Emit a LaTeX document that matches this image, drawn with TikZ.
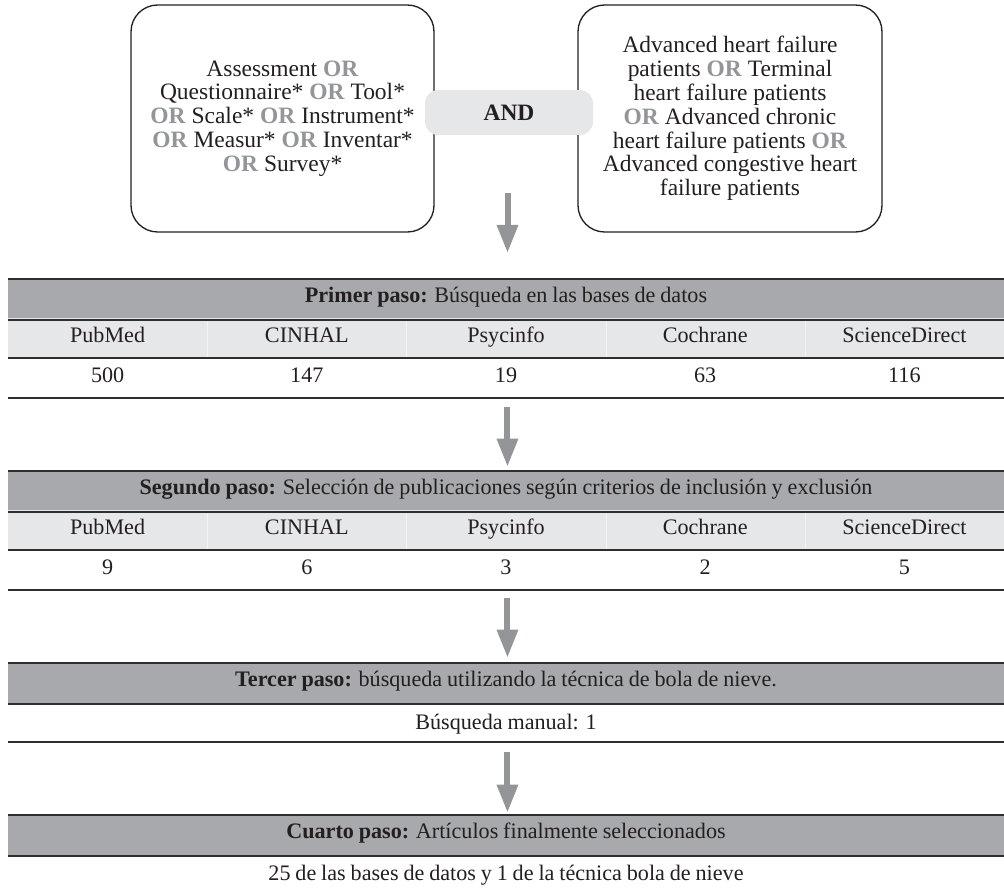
\documentclass[tikz,border=0pt]{standalone}
\usepackage{fontspec}
\setmainfont{Liberation Serif}
\usetikzlibrary{arrows.meta}
\definecolor{hgray}{HTML}{A7A9AC}
\definecolor{lgray}{HTML}{E6E7E8}
\definecolor{agray}{HTML}{939598}
\definecolor{ink}{HTML}{231F20}
\newcommand{\orw}{\textcolor{agray}{\textbf{OR}}}
\newcommand{\tightsp}{\spaceskip=0.22em plus 0.1em minus 0.05em\relax}
\begin{document}
\begin{tikzpicture}[x=0.75pt,y=-0.75pt,
  qbox/.style={draw=ink, line width=1pt, rounded corners=20pt, fill=white,
    minimum height=170.25pt, align=center, inner sep=0pt, text=ink,
    font=\fontsize{17.6}{17.9}\selectfont},
  andbox/.style={fill=lgray, rounded corners=10pt, minimum width=126pt,
    minimum height=33.75pt, inner sep=0pt, text=ink,
    font=\fontsize{17.6}{17.9}\selectfont\bfseries},
  hdr/.style={fill=hgray, minimum width=747pt, minimum height=30pt, inner sep=0pt,
    text height=0.68em, text depth=0.22em,
    text=ink, font=\fontsize{16.6}{19}\selectfont\tightsp},
  lrow/.style={fill=lgray, minimum width=747pt, minimum height=30pt, inner sep=0pt},
  wrow/.style={minimum width=747pt, minimum height=30pt, inner sep=0pt},
  cell/.style={minimum width=149.4pt, minimum height=30pt, inner sep=0pt,
    text height=0.68em, text depth=0.22em,
    text=ink, font=\fontsize{16.6}{19}\selectfont\tightsp},
  rule/.style={draw=black!82, line width=1.4pt},
  sep/.style={draw=white, line width=0.4pt, opacity=0.5},
  arr/.style={draw=agray, line width=4.5pt, -{Triangle[length=21pt,width=15pt]}}
]
\useasboundingbox (0,0) rectangle (1004,891);

% query boxes
\node[qbox, minimum width=227.25pt] (qa) at (282.5,118.5)
  {Assessment \orw\\ Questionnaire* \orw{} Tool*\\ \orw{} Scale* \orw{} Instrument*\\ \orw{} Measur* \orw{} Inventar*\\ \orw{} Survey*};
\node[qbox, minimum width=228pt] (qb) at (730,118.5)
  {Advanced heart failure\\ patients \orw{} Terminal\\ heart failure patients\\ \orw{} Advanced chronic\\ heart failure patients \orw\\ Advanced congestive heart\\ failure patients};
\node[andbox] (and) at (509,112.5) {AND};

% table 1
\node[hdr] (h1) at (506,299) {\textbf{Primer paso:} Búsqueda en las bases de datos};
\node[lrow] (l1) at (506,338) {};
\node[wrow] (w1) at (506,378) {};
\node[cell] (l1a) at (107.6,339) {PubMed};
\node[cell] (l1b) at (306.8,339) {CINHAL};
\node[cell] (l1c) at (506,339) {Psycinfo};
\node[cell] (l1d) at (705.2,339) {Cochrane};
\node[cell] (l1e) at (904.4,339) {ScienceDirect};
\node[cell] (n1a) at (107.6,379) {500};
\node[cell] (n1b) at (306.8,379) {147};
\node[cell] (n1c) at (506,379) {19};
\node[cell] (n1d) at (705.2,379) {63};
\node[cell] (n1e) at (904.4,379) {116};
\foreach \c in {l1a,l1b,l1c,l1d} \draw[sep] ([yshift=-0.75pt]\c.north east) -- ([yshift=0.75pt]\c.south east);
\draw[rule] (h1.north west) -- (h1.north east);
\draw[rule] ([yshift=-0.75pt]h1.south west) -- ([yshift=-0.75pt]h1.south east);
\draw[rule] (l1.south west) -- (l1.south east);
\draw[rule] (w1.south west) -- (w1.south east);

% table 2
\node[hdr] (h2) at (506,491) {\textbf{Segundo paso:} Selección de publicaciones según criterios de inclusión y exclusión};
\node[lrow] (l2) at (506,530) {};
\node[wrow] (w2) at (506,570) {};
\node[cell] (l2a) at (107.6,531) {PubMed};
\node[cell] (l2b) at (306.8,531) {CINHAL};
\node[cell] (l2c) at (506,531) {Psycinfo};
\node[cell] (l2d) at (705.2,531) {Cochrane};
\node[cell] (l2e) at (904.4,531) {ScienceDirect};
\node[cell] (n2a) at (107.6,571) {9};
\node[cell] (n2b) at (306.8,571) {6};
\node[cell] (n2c) at (506,571) {3};
\node[cell] (n2d) at (705.2,571) {2};
\node[cell] (n2e) at (904.4,571) {5};
\foreach \c in {l2a,l2b,l2c,l2d} \draw[sep] ([yshift=-0.75pt]\c.north east) -- ([yshift=0.75pt]\c.south east);
\draw[rule] (h2.north west) -- (h2.north east);
\draw[rule] ([yshift=-0.75pt]h2.south west) -- ([yshift=-0.75pt]h2.south east);
\draw[rule] (l2.south west) -- (l2.south east);
\draw[rule] (w2.south west) -- (w2.south east);

% table 3
\node[hdr] (h3) at (506,683) {\textbf{Tercer paso:} búsqueda utilizando la técnica de bola de nieve.};
\node[wrow] (w3) at (506,722) {};
\node[cell, minimum width=747pt] (t3) at (506,726) {Búsqueda manual: 1};
\draw[rule] (h3.north west) -- (h3.north east);
\draw[rule] ([yshift=-0.75pt]h3.south west) -- ([yshift=-0.75pt]h3.south east);
\draw[rule] (w3.south west) -- (w3.south east);

% table 4
\node[hdr] (h4) at (506,835) {\textbf{Cuarto paso:} Artículos finalmente seleccionados};
\node[cell, minimum width=747pt] (t4) at (506,877) {25 de las bases de datos y 1 de la técnica bola de nieve};
\draw[rule] (h4.north west) -- (h4.north east);
\draw[rule] ([yshift=-0.75pt]h4.south west) -- ([yshift=-0.75pt]h4.south east);

% arrows
\coordinate (a1s) at (507.5,193);
\coordinate (a1e) at (507.5,253);
\draw[arr] (a1s) -- (a1e);
\draw[arr] ([xshift=1.1pt,yshift=-6.75pt]w1.south) -- ([xshift=1.1pt,yshift=3pt]h2.north);
\draw[arr] ([xshift=1.1pt,yshift=-6pt]w2.south) -- ([xshift=1.1pt,yshift=3.75pt]h3.north);
\draw[arr] ([xshift=1.1pt,yshift=-7.5pt]w3.south) -- ([xshift=1.1pt,yshift=1.5pt]h4.north);
\end{tikzpicture}
\end{document}
